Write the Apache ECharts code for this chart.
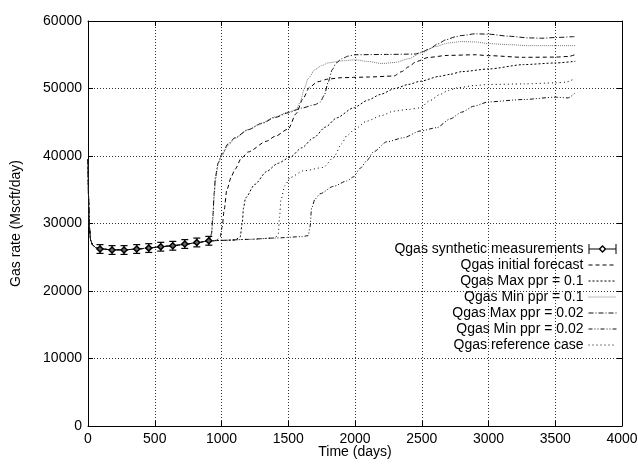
<!DOCTYPE html>
<html>
<head>
<meta charset="utf-8">
<script src="https://cdn.jsdelivr.net/npm/echarts@6/dist/echarts.min.js"></script>
<style>html,body{margin:0;padding:0;background:#fff}#c{width:638px;height:464px}</style>
</head>
<body>
<div id="c"></div>
<script>
// ---- axis ticks ----
const xTicks = [0, 500, 1000, 1500, 2000, 2500, 3000, 3500, 4000];
const yTicks = [0, 10000, 20000, 30000, 40000, 50000, 60000];

// ---- common early decline (all simulated cases) ----
const earlyDays  = [0, 4, 10, 20, 35, 60, 90, 180, 270, 360, 450, 540, 630, 720, 810, 900];
const earlyRates = [39500, 34000, 29500, 27500, 26800, 26400, 26250, 26100, 26100, 26200, 26350, 26550, 26700, 26900, 27150, 27400];

// ---- synthetic measurements ----
const measDays  = [90, 180, 270, 365, 455, 545, 635, 725, 815, 905];
const measRates = [26220, 26070, 26070, 26220, 26360, 26560, 26700, 26960, 27190, 27440];
const measErr   = [650, 650, 650, 650, 650, 650, 650, 650, 650, 650];

// ---- initial forecast ----
const initDays  = [960, 990, 1005, 1020, 1040, 1075, 1100, 1150, 1200, 1338, 1400, 1500, 1560, 1610, 1660, 1720, 1800, 1900, 2000, 2100, 2290, 2350, 2400, 2460, 2550, 2690, 2900, 3000, 3260, 3500, 3600, 3650];
const initRates = [27500, 28000, 29500, 32000, 35000, 37000, 38000, 39700, 40600, 42200, 42900, 44000, 46300, 48500, 50200, 51000, 51400, 51600, 51650, 51700, 51850, 52500, 53200, 54000, 54600, 54900, 55000, 54870, 54620, 54650, 54750, 55020];

// ---- Max ppr = 0.1 ----
const max01Days  = [1000, 1100, 1140, 1155, 1165, 1180, 1250, 1338, 1420, 1513, 1600, 1690, 1780, 1863, 1988, 2100, 2188, 2300, 2400, 2488, 2635, 2713, 2800, 3000, 3263, 3500, 3650];
const max01Rates = [27500, 27550, 28000, 30000, 32300, 33800, 35800, 37700, 38900, 39800, 41200, 42700, 44300, 45650, 47130, 48300, 49110, 50000, 50600, 51070, 51810, 52100, 52500, 52890, 53540, 53780, 54030];

// ---- Min ppr = 0.1 ----
const min01Days  = [910, 925, 935, 945, 955, 975, 1000, 1050, 1100, 1200, 1300, 1400, 1500, 1560, 1590, 1620, 1650, 1700, 1750, 1800, 1900, 2000, 2100, 2200, 2300, 2400, 2500, 2600, 2700, 2800, 2900, 3000, 3150, 3300, 3650];
const min01Rates = [27500, 28300, 30500, 34000, 36500, 38800, 40000, 41600, 42600, 43900, 44900, 45800, 46500, 46900, 48000, 50000, 51500, 52800, 53400, 53800, 54100, 54250, 54000, 53700, 53850, 54400, 55300, 56200, 56750, 56950, 56900, 56650, 56500, 56350, 56350];

// ---- Max ppr = 0.02 ----
const max002Days  = [910, 925, 935, 945, 955, 975, 1000, 1050, 1100, 1200, 1300, 1400, 1500, 1600, 1700, 1740, 1770, 1800, 1830, 1860, 1900, 1950, 2000, 2250, 2450, 2500, 2560, 2620, 2680, 2750, 2800, 2900, 3000, 3150, 3300, 3400, 3500, 3650];
const max002Rates = [27500, 28500, 31000, 34500, 37000, 39000, 40200, 41800, 42700, 43900, 44800, 45700, 46400, 47100, 47600, 48000, 49000, 51000, 52800, 53800, 54400, 54800, 55000, 55050, 55100, 55400, 55900, 56600, 57200, 57650, 57850, 58100, 58050, 57750, 57500, 57450, 57550, 57700];

// ---- Min ppr = 0.02 ----
const min002Days  = [1000, 1200, 1400, 1600, 1650, 1663, 1675, 1700, 1738, 1838, 1938, 1988, 2040, 2088, 2138, 2238, 2363, 2488, 2613, 2713, 2800, 2890, 3000, 3263, 3500, 3595, 3650];
const min002Rates = [27500, 27650, 27850, 28050, 28200, 29500, 32300, 33600, 34400, 35500, 36300, 36900, 38200, 39300, 40600, 42100, 42700, 43700, 44200, 45500, 46500, 47380, 48020, 48370, 48710, 48610, 49350];

// ---- reference case ----
const refDays  = [1000, 1200, 1400, 1425, 1435, 1445, 1475, 1513, 1613, 1763, 1838, 1900, 1938, 2000, 2088, 2200, 2288, 2400, 2488, 2560, 2635, 2700, 2763, 2900, 3000, 3263, 3500, 3580, 3650];
const refRates = [27500, 27650, 27850, 28400, 31000, 33500, 35600, 36800, 37800, 38300, 39750, 41800, 43000, 44000, 45170, 46000, 46640, 46900, 47130, 48200, 49100, 49700, 50090, 50450, 50590, 50680, 50830, 50950, 51500];

const names = [
  'Qgas synthetic measurements',
  'Qgas initial forecast',
  'Qgas Max ppr = 0.1',
  'Qgas Min ppr = 0.1',
  'Qgas Max ppr = 0.02',
  'Qgas Min ppr = 0.02',
  'Qgas reference case'
];

function pairs(d, r) { return d.map((x, i) => [x, r[i]]); }
function withEarly(d, r) { return pairs(earlyDays.concat(d), earlyRates.concat(r)); }

const FONT = 'Liberation Sans, Arial, Helvetica, sans-serif';

function lineSeries(name, data, dash, color) {
  return {
    name, type: 'line', data, showSymbol: false, symbol: 'none',
    smooth: 0.25, smoothMonotone: 'x',
    lineStyle: { color, width: 1, type: dash },
    itemStyle: { color },
    xAxisIndex: 0, yAxisIndex: 0, z: 3
  };
}

const chart = echarts.init(document.getElementById('c'), null, { renderer: 'canvas' });

const measData = measDays.map((d, i) => [d, measRates[i], measErr[i]]);

const axisCommon = {
  axisLine: { show: true, onZero: false, lineStyle: { color: '#000', width: 1 } },
  axisTick: { show: true, inside: true, length: 5, lineStyle: { color: '#000' } }
};
const plain = v => String(v);

const option = {
  animation: false,
  backgroundColor: '#fff',
  grid: { left: 88, right: 16, top: 21, bottom: 38, containLabel: false, outerBoundsMode: 'none' },
  legend: {
    orient: 'vertical', right: 16, top: 237, align: 'right',
    itemWidth: 28, itemHeight: 14, itemGap: 2,
    itemStyle: { opacity: 0 },
    lineStyle: { width: 1 },
    textStyle: { fontFamily: FONT, fontSize: 14, color: '#000' },
    data: [
      { name: names[0], icon: 'path://M0,0H1V10H0Z M27,0H28V10H27Z M1,4.5H10.5V5.5H1Z M17.5,4.5H27V5.5H17.5Z M14,1L18,5L14,9L10,5Z M14,3L12,5L14,7L16,5Z', itemStyle: { opacity: 1, color: '#000' } },
      names[1], names[2], names[3], names[4], names[5], names[6]
    ]
  },
  xAxis: [
    Object.assign({
      type: 'value', min: xTicks[0], max: xTicks[xTicks.length - 1], interval: 500,
      position: 'bottom',
      name: 'Time (days)', nameLocation: 'middle', nameGap: 19, nameMoveOverlap: false,
      nameTextStyle: { fontFamily: FONT, fontSize: 14, color: '#000', verticalAlign: 'top' },
      axisLabel: { fontFamily: FONT, fontSize: 14, color: '#000', margin: 6, formatter: plain,
        alignMinLabel: 'center', alignMaxLabel: 'center', hideOverlap: false },
      splitLine: { show: true, lineStyle: { color: '#000', type: [1, 2], width: 1, opacity: 0.8 } }
    }, axisCommon),
    Object.assign({
      type: 'value', min: xTicks[0], max: xTicks[xTicks.length - 1], interval: 500,
      position: 'top', axisLabel: { show: false }, splitLine: { show: false }
    }, axisCommon)
  ],
  yAxis: [
    Object.assign({
      type: 'value', min: yTicks[0], max: yTicks[yTicks.length - 1], interval: 10000,
      position: 'left',
      name: 'Gas rate (Mscft/day)', nameLocation: 'middle', nameGap: 65, nameRotate: 90, nameMoveOverlap: false,
      nameTextStyle: { fontFamily: FONT, fontSize: 14, color: '#000' },
      axisLabel: { fontFamily: FONT, fontSize: 14, color: '#000', margin: 6, formatter: plain,
        verticalAlignMinLabel: 'middle', verticalAlignMaxLabel: 'middle', hideOverlap: false },
      splitLine: { show: true, lineStyle: { color: '#000', type: [1, 2], width: 1, opacity: 0.8 } }
    }, axisCommon),
    Object.assign({
      type: 'value', min: yTicks[0], max: yTicks[yTicks.length - 1], interval: 10000,
      position: 'right', axisLabel: { show: false }, splitLine: { show: false }
    }, axisCommon)
  ],
  series: [
    {
      name: names[0], type: 'custom', data: measData, xAxisIndex: 0, yAxisIndex: 0, z: 5,
      itemStyle: { color: '#000' },
      encode: { x: 0, y: 1 },
      renderItem: function (params, api) {
        const x = api.value(0), y = api.value(1), e = api.value(2);
        const p = api.coord([x, y]);
        const lo = api.coord([x, y - e]);
        const hi = api.coord([x, y + e]);
        const c = 3.5, s = 3;
        const st = { stroke: '#000', lineWidth: 1.2, fill: null };
        return {
          type: 'group', children: [
            { type: 'line', shape: { x1: p[0], y1: lo[1], x2: p[0], y2: hi[1] }, style: st },
            { type: 'line', shape: { x1: p[0] - c, y1: lo[1], x2: p[0] + c, y2: lo[1] }, style: st },
            { type: 'line', shape: { x1: p[0] - c, y1: hi[1], x2: p[0] + c, y2: hi[1] }, style: st },
            { type: 'polygon', shape: { points: [[p[0], p[1] - s], [p[0] + s, p[1]], [p[0], p[1] + s], [p[0] - s, p[1]]] },
              style: { stroke: '#000', lineWidth: 1.5, fill: '#666' } }
          ]
        };
      }
    },
    lineSeries(names[1], withEarly(initDays, initRates), [4, 3], '#000'),
    lineSeries(names[2], withEarly(max01Days, max01Rates), [2, 2], '#000'),
    lineSeries(names[3], withEarly(min01Days, min01Rates), [1, 1], '#7a7a7a'),
    lineSeries(names[4], withEarly(max002Days, max002Rates), [5, 2, 1, 2], '#111'),
    lineSeries(names[5], withEarly(min002Days, min002Rates), [4, 2, 1, 2, 1, 2], '#111'),
    lineSeries(names[6], withEarly(refDays, refRates), [1, 3], '#000')
  ]
};
chart.setOption(option);
</script>
</body>
</html>
